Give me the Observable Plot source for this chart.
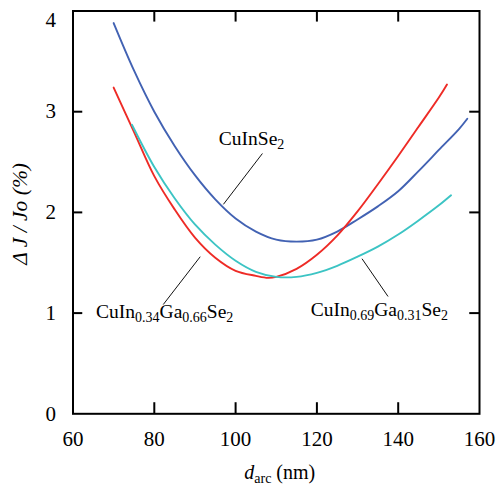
<!DOCTYPE html>
<html>
<head>
<meta charset="utf-8">
<script src="https://cdn.jsdelivr.net/npm/d3@7"></script>
<script src="https://cdn.jsdelivr.net/npm/@observablehq/plot@0.6"></script>
<style>
  html, body { margin: 0; padding: 0; background: #fff; }
  #chart { width: 499px; height: 489px; }
  #chart svg, #chart svg text, #chart svg tspan { font-family: "Liberation Serif", "Times New Roman", Times, "DejaVu Serif", serif !important; }
</style>
</head>
<body>
<div id="chart"></div>
<script>
// ---- data ----
const seriesNames = ["CuInSe2", "CuIn0.34Ga0.66Se2", "CuIn0.69Ga0.31Se2"];

const cuInSe2X = [70, 75, 80, 85, 90, 95, 100, 105, 110, 115, 120, 125, 130, 135, 140, 145, 150, 155, 157];
const cuInSe2Y = [3.88, 3.41, 3.0, 2.66, 2.37, 2.13, 1.94, 1.81, 1.73, 1.71, 1.73, 1.81, 1.93, 2.06, 2.21, 2.41, 2.62, 2.83, 2.93];

const ga066X = [70, 75, 80, 85, 90, 95, 100, 105, 108, 110, 115, 120, 125, 130, 135, 140, 145, 150, 152];
const ga066Y = [3.24, 2.80, 2.36, 2.03, 1.75, 1.55, 1.42, 1.37, 1.35, 1.36, 1.44, 1.58, 1.77, 2.01, 2.28, 2.56, 2.85, 3.14, 3.27];

const ga031X = [74.5, 80, 85, 90, 95, 100, 105, 110, 115, 120, 125, 130, 135, 140, 145, 150, 153];
const ga031Y = [2.87, 2.45, 2.14, 1.88, 1.68, 1.52, 1.41, 1.36, 1.36, 1.40, 1.47, 1.56, 1.66, 1.78, 1.92, 2.07, 2.17];

const xTicks = [60, 80, 100, 120, 140, 160];
const yTicks = [0, 1, 2, 3];
const yTopTick = [4];
const innerXTicks = [80, 100, 120, 140];
const innerYTicks = [1, 2, 3];

// ---- build table ----
const colors = ["#4262b3", "#ee2b26", "#3cc4c4"];
const xs = [cuInSe2X, ga066X, ga031X];
const ys = [cuInSe2Y, ga066Y, ga031Y];
const rows = [];
seriesNames.forEach((name, i) => {
  xs[i].forEach((x, j) => rows.push({series: name, x, y: ys[i][j]}));
});

// annotation placement (data units)
const leaders = [
  {x1: 106.6, y1: 2.585, x2: 97.0, y2: 2.08},
  {x1: 82.2, y1: 1.085, x2: 91.3, y2: 1.56},
  {x1: 137.5, y1: 1.165, x2: 131.1, y2: 1.54}
];
const labelSpecs = [
  {x: 96.0, y: 2.66, parts: [["CuInSe", false], ["2", true]]},
  {x: 65.8, y: 0.95, parts: [["CuIn", false], ["0.34", true], ["Ga", false], ["0.66", true], ["Se", false], ["2", true]]},
  {x: 118.6, y: 0.97, parts: [["CuIn", false], ["0.69", true], ["Ga", false], ["0.31", true], ["Se", false], ["2", true]]}
];

const tickLenY = 0.11;   // ~11px
const tickLenX = 2.4;    // ~10px
const FONT = "Liberation Serif";

const plot = Plot.plot({
  width: 499,
  height: 489,
  marginLeft: 72.5,
  marginRight: 20,
  marginTop: 10.5,
  marginBottom: 75.7,
  style: {fontFamily: FONT, fontSize: "21px", background: "#fff", color: "#000"},
  x: {domain: [60, 160]},
  y: {domain: [0, 4]},
  color: {domain: seriesNames, range: colors},
  marks: [
    Plot.line(rows, {x: "x", y: "y", z: "series", stroke: "series", strokeWidth: 1.9, curve: "catmull-rom"}),
    Plot.link(leaders, {x1: "x1", y1: "y1", x2: "x2", y2: "y2", stroke: "#111", strokeWidth: 1}),
    // inward ticks
    Plot.ruleX(innerXTicks, {x: d => d, y1: d => 0, y2: d => tickLenY, stroke: "#000", strokeWidth: 2}),
    Plot.ruleX(innerXTicks, {x: d => d, y1: d => 4, y2: d => 4 - tickLenY, stroke: "#000", strokeWidth: 2}),
    Plot.ruleY(innerYTicks, {y: d => d, x1: d => 60, x2: d => 60 + tickLenX, stroke: "#000", strokeWidth: 2}),
    Plot.ruleY(innerYTicks, {y: d => d, x1: d => 160, x2: d => 160 - tickLenX, stroke: "#000", strokeWidth: 2}),
    Plot.axisX(xTicks, {tickSize: 0, tickPadding: 17, label: null, tickFormat: d => String(d), fontSize: 21, fontFamily: FONT, fill: "#000"}),
    Plot.axisY(yTicks, {tickSize: 0, tickPadding: 17, label: null, tickFormat: d => String(d), fontSize: 21, fontFamily: FONT, fill: "#000"}),
    Plot.axisY(yTopTick, {tickSize: 0, tickPadding: 17, dy: 9, label: null, tickFormat: d => String(d), fontSize: 21, fontFamily: FONT, fill: "#000"}),
    Plot.frame({stroke: "#000", strokeWidth: 2})
  ]
});

document.getElementById("chart").appendChild(plot);

const sx = plot.scale("x"), sy = plot.scale("y");
const svg = d3.select(plot);
const g = svg.append("g").attr("fill", "#000").attr("text-anchor", "start");

labelSpecs.forEach(spec => {
  const t = g.append("text")
    .attr("x", sx.apply(spec.x))
    .attr("y", sy.apply(spec.y))
    .attr("text-anchor", "start")
    .attr("font-size", 19.5);
  let shifted = false;
  spec.parts.forEach(([s, sub]) => {
    const ts = t.append("tspan").text(s);
    if (sub) {
      ts.attr("font-size", 14);
      if (!shifted) { ts.attr("dy", 4); shifted = true; }
    } else if (shifted) {
      ts.attr("dy", -4); shifted = false;
    }
  });
});

// y axis title
g.append("text")
  .attr("transform", `translate(${sx.apply(60) - 46},${(sy.apply(0) + sy.apply(4)) / 2 + 2}) rotate(-90)`)
  .attr("text-anchor", "middle")
  .attr("font-size", 21.5)
  .attr("font-style", "italic")
  .text("Δ J / Jo (%)");

// x axis title
const xt = g.append("text")
  .attr("x", (sx.apply(60) + sx.apply(160)) / 2 + 4)
  .attr("y", sy.apply(0) + 66)
  .attr("text-anchor", "middle")
  .attr("font-size", 20);
xt.append("tspan").attr("font-style", "italic").text("d");
xt.append("tspan").attr("font-size", 14).attr("dy", 4).text("arc");
xt.append("tspan").attr("dy", -4).text(" (nm)");
</script>
</body>
</html>
